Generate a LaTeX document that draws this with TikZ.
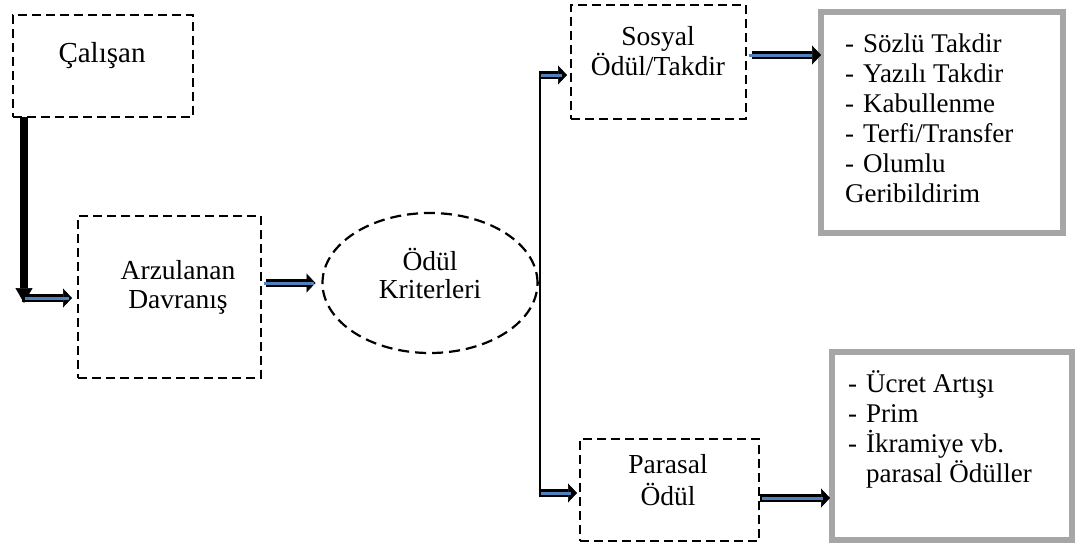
\documentclass[tikz,border=0pt]{standalone}
\usepackage{fontspec}
\setmainfont{Liberation Serif}
\usetikzlibrary{arrows.meta,shapes.geometric,calc}
\definecolor{arrowblue}{RGB}{79,129,189}
\definecolor{framegray}{RGB}{166,166,166}
\begin{document}
\begin{tikzpicture}[x=1pt,y=-1pt,
  dbox/.style={draw, rectangle, line width=2.2pt, dash pattern=on 9pt off 5pt, inner sep=0, outer sep=0},
  doval/.style={draw, ellipse, line width=2.2pt, dash pattern=on 11pt off 6pt, inner sep=0, outer sep=0},
  gbox/.style={draw=framegray, rectangle, line width=6pt, inner sep=0, outer sep=0},
  lbl/.style={font=\fontsize{27.5}{30}\selectfont, anchor=base, inner sep=0},
  item/.style={font=\fontsize{27}{30}\selectfont, anchor=base west, inner sep=0},
  blockarrow/.style={line width=8.5pt, -{Triangle[length=9pt,width=19pt,line width=0.6pt]},
    postaction={draw=arrowblue, line width=3pt, -, shorten <=2.6pt, shorten >=9pt}},
  trunk/.style={line width=2.6pt}
]
\useasboundingbox (0,0) rectangle (1077,550);

% boxes
\node[dbox, minimum width=180pt, minimum height=102pt] (cal) at (103,66) {};
\node[dbox, minimum width=183pt, minimum height=162pt] (arz) at (169.5,297) {};
\node[doval, minimum width=215pt, minimum height=140pt] (kri) at (430,283) {};
\node[dbox, minimum width=175pt, minimum height=114pt] (sos) at (658.5,62) {};
\node[dbox, minimum width=179pt, minimum height=102pt] (par) at (669.5,490) {};
\node[gbox, minimum width=242pt, minimum height=221pt] (g1) at (942,122.5) {};
\node[gbox, minimum width=240pt, minimum height=188pt] (g2) at (952,446) {};

% box texts
\node[lbl, font=\fontsize{29}{30}\selectfont] (calT) at (102,62) {Çalışan};
\node[lbl] (arzT1) at (178,279) {Arzulanan};
\node[lbl] (arzT2) at (178,308) {Davranış};
\node[lbl] (kriT1) at (430,270) {Ödül};
\node[lbl] (kriT2) at (430,298) {Kriterleri};
\node[lbl] (sosT1) at (658,45) {Sosyal};
\node[lbl] (sosT2) at (658,75) {Ödül/Takdir};
\node[lbl] (parT1) at (668,473) {Parasal};
\node[lbl] (parT2) at (668,505) {Ödül};

% list of social rewards
\node[item] (s1) at (845,52)  {\makebox[18pt][l]{-}Sözlü Takdir};
\node[item] (s2) at (845,82)  {\makebox[18pt][l]{-}Yazılı Takdir};
\node[item] (s3) at (845,112) {\makebox[18pt][l]{-}Kabullenme};
\node[item] (s4) at (845,142) {\makebox[18pt][l]{-}Terfi/Transfer};
\node[item] (s5) at (845,172) {\makebox[18pt][l]{-}Olumlu};
\node[item] (s6) at (845,202) {Geribildirim};

% list of monetary rewards
\node[item] (p1) at (848,392) {\makebox[18pt][l]{-}Ücret Artışı};
\node[item] (p2) at (848,422) {\makebox[18pt][l]{-}Prim};
\node[item] (p3) at (848,452) {\makebox[18pt][l]{-}İkramiye vb.};
\node[item] (p4) at (866,482) {parasal Ödüller};

% connector points
\coordinate (dTop) at ($(cal.south west)+(11,0)$);
\coordinate (dBot) at (24,303);
\coordinate (hL) at (22,298);
\coordinate (jt) at (540,75);
\coordinate (jb) at (540,493);

% employee -> behaviour
\draw[line width=8pt, -{Triangle[length=15pt,width=17pt,line width=0.6pt]}] (dTop) -- (dBot);
\draw[blockarrow, shorten >=6pt] (hL) -- (hL -| arz.west);
\draw[blockarrow, shorten <=5pt, shorten >=7pt] (arz.east |- kri.west) -- (kri.west);

% branching trunk
\draw[trunk] (jt) -- (jb);
\draw[trunk] (kri.east) -- (kri.east -| jt);
\draw[blockarrow, shorten >=4pt] ($(jt)+(-1.3,0)$) -- (jt -| sos.west);
\draw[blockarrow, shorten >=3pt] ($(jb)+(-1.3,0)$) -- (jb -| par.west);

% rewards -> lists
\draw[blockarrow, shorten <=6pt] (sos.east |- 0,55) -- (g1.west |- 0,55);
\draw[blockarrow, shorten <=1pt, shorten >=2pt] (par.east |- 0,498) -- (g2.west |- 0,498);
\end{tikzpicture}
\end{document}
